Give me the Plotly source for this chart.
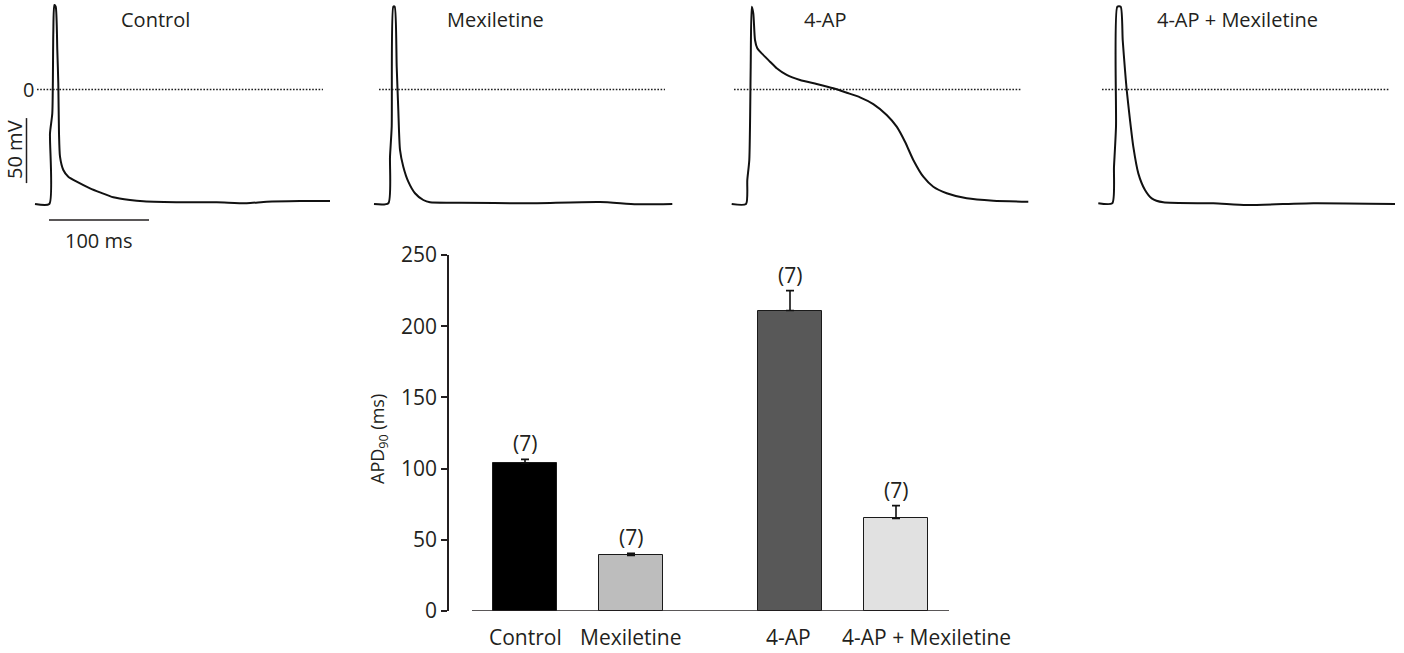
import plotly.graph_objects as go

# ---------------- data ----------------
# Action potential traces (time in ms, membrane potential in mV)
ctrl_t = [35, 49.3, 50, 52.3, 53.3, 54.3, 55.7, 57.3, 58.3, 59, 60, 63.3, 68.3, 76.7, 90, 100, 113.3, 130, 143.3, 183.3, 216.7, 246.7, 266.7, 300, 330]
ctrl_v = [-88.1, -88.1, -33.7, -18.3, 43.2, 65.0, 63.7, 30.4, 4.8, -33.7, -51.7, -61.9, -67.1, -70.9, -76.0, -79.1, -82.9, -85.0, -86.0, -86.8, -86.8, -87.5, -86.3, -85.8, -85.8]

mex_t = [14, 28.3, 30, 31.7, 33.3, 34.7, 36.7, 38.3, 40, 43.3, 48.3, 55, 63.3, 70, 100, 166.7, 240, 276.7, 312.3]
mex_v = [-88.1, -87.5, -51.7, -28.6, 63.7, 63.7, 17.5, -15.8, -46.5, -59.4, -70.9, -79.8, -85.0, -86.8, -87.1, -87.5, -86.5, -88.3, -88.1]

ap_t = [11.7, 26, 27.3, 29.3, 30.7, 31.7, 33.3, 35, 37.3, 41.7, 50, 56.7, 66.7, 80, 96.7, 113.3, 126.7, 140, 153.3, 166.7, 176.7, 185, 193.3, 203.3, 213.3, 226.7, 246.7, 273.3, 308.3]
ap_v = [-88.1, -88.1, -69.6, -54.2, 17.5, 63.7, 58.6, 38.1, 31.7, 27.8, 21.4, 16.3, 11.2, 7.3, 4.2, 0.9, -2.5, -6.0, -11.2, -19.6, -28.6, -40.2, -54.2, -67.1, -74.8, -79.8, -83.7, -85.5, -86.3]

apm_t = [18.3, 32.3, 34, 36, 37.3, 40.7, 42.7, 45, 46.7, 50, 53.3, 58.3, 65, 71.7, 83.3, 133.3, 166.7, 233.3, 315]
apm_v = [-87.5, -87.5, -59.4, -28.6, 63.7, 63.7, 38.1, 15.0, -0.4, -23.5, -44.0, -64.5, -77.3, -83.7, -86.8, -87.5, -88.8, -87.5, -88.1]

panel_titles = ["Control", "Mexiletine", "4-AP", "4-AP + Mexiletine"]
zero_line_t = [(37, 323), (19, 305), (14, 301), (22, 309)]

# Summary bar chart (APD90, ms)
groups = ["Control", "Mexiletine", "4-AP", "4-AP + Mexiletine"]
group_pos = [0, 1, 2.5, 3.5]
apd90 = [104, 39, 211, 65]
apd90_sem = [2.5, 1.5, 14, 9]
n_cells = ["(7)", "(7)", "(7)", "(7)"]
bar_colors = ["#000000", "#bdbdbd", "#585858", "#e1e1e1"]

# ---------------- figure ----------------
W, H = 1404, 653
TXT = "#231f20"
FONT = "Open Sans"
FS = 20
FSB = 21
label_xshift = [0, 0, -2, 30]

def px(v):
    return v / W

def py(v):
    return 1 - v / H

fig = go.Figure()

# top panels geometry (pixels): 1 px per ms, 1.3 px per mV, 0 mV at y=89.5
panel_x = [(0, 350), (360, 710), (720, 1070), (1080, 1404)]
v_top = 89.5 / 1.3
v_bot = (89.5 - 250) / 1.3

traces = [(ctrl_t, ctrl_v), (mex_t, mex_v), (ap_t, ap_v), (apm_t, apm_v)]
title_t = [155, 136, 106, 157]

for i, ((t, v), (x0, x1)) in enumerate(zip(traces, panel_x)):
    k = i + 1
    xa = "x" if k == 1 else f"x{k}"
    ya = "y" if k == 1 else f"y{k}"
    zt0, zt1 = zero_line_t[i]
    fig.add_trace(go.Scatter(x=[zt0, zt1], y=[0, 0], mode="lines",
                             line=dict(color="#1e1e1e", width=1.6, dash="1.6px,1.6px"),
                             xaxis=xa, yaxis=ya, showlegend=False, hoverinfo="skip"))
    fig.add_trace(go.Scatter(x=t, y=v, mode="lines",
                             line=dict(color="#111111", width=2, shape="spline", smoothing=0.6),
                             xaxis=xa, yaxis=ya, showlegend=False))
    axx = dict(domain=[px(x0), px(x1)], range=[0, x1 - x0], visible=False, anchor=ya,
               automargin=False)
    axy = dict(domain=[py(250), 1], range=[v_bot, v_top], visible=False, anchor=xa,
               automargin=False)
    if k == 1:
        fig.update_layout(xaxis=axx, yaxis=axy)
    else:
        fig.update_layout(**{f"xaxis{k}": axx, f"yaxis{k}": axy})
    fig.add_annotation(x=title_t[i], y=54, xref=xa, yref=ya, text=panel_titles[i],
                       showarrow=False, xanchor="center", yanchor="middle",
                       font=dict(family=FONT, size=FS, color=TXT))

# scale bars in first panel
fig.add_shape(type="line", xref="x", yref="y", x0=26.5, x1=26.5, y0=-22, y1=-72,
              line=dict(color=TXT, width=1.5))
fig.add_shape(type="line", xref="x", yref="y", x0=49, x1=149, y0=-100.4, y1=-100.4,
              line=dict(color=TXT, width=1.5))
fig.add_annotation(x=99, y=-115.8, xref="x", yref="y", text="100 ms", showarrow=False,
                   font=dict(family=FONT, size=FS, color=TXT))
fig.add_annotation(x=15, y=-46.5, xref="x", yref="y", text="50 mV", textangle=-90,
                   showarrow=False, font=dict(family=FONT, size=FS, color=TXT))
fig.add_annotation(x=28, y=0, xref="x", yref="y", text="0", showarrow=False,
                   font=dict(family=FONT, size=FS, color=TXT))

# bar chart
fig.add_trace(go.Bar(x=group_pos, y=apd90, width=0.6,
                     marker=dict(color=bar_colors, line=dict(color="#1a1a1a", width=1)),
                     error_y=dict(type="data", symmetric=False, array=apd90_sem,
                                  arrayminus=[0] * len(apd90_sem),
                                  color="#111111", thickness=1.6, width=4),
                     xaxis="x5", yaxis="y5", showlegend=False))

fig.update_layout(
    xaxis5=dict(domain=[px(449), px(949)], range=[-0.717, 4.0], anchor="y5",
                showticklabels=False, ticks="", showline=False,
                showgrid=False, zeroline=False, automargin=False),
    yaxis5=dict(domain=[py(611), py(255)], range=[0, 250], anchor="x5",
                tickvals=[0, 50, 100, 150, 200, 250], ticks="outside", ticklen=6,
                tickwidth=1.5, tickcolor=TXT, showline=True, linewidth=1.5, linecolor=TXT,
                showgrid=False, zeroline=False, automargin=False,
                tickfont=dict(family=FONT, size=FSB, color=TXT)),
)

fig.add_shape(type="line", xref="x5", yref="y5", x0=-0.5, x1=4.0, y0=0, y1=0,
              line=dict(color=TXT, width=1.5))

# category labels under the bars
for xp, lab, dx in zip(group_pos, groups, label_xshift):
    fig.add_annotation(x=xp, y=0, xref="x5", yref="y5", text=lab, showarrow=False,
                       xanchor="center", yanchor="middle", yshift=-26, xshift=dx,
                       font=dict(family=FONT, size=FSB, color=TXT))

for xp, yv, e, lab in zip(group_pos, apd90, apd90_sem, n_cells):
    fig.add_annotation(x=xp, y=yv + e, xref="x5", yref="y5", text=lab, showarrow=False,
                       xanchor="center", yanchor="middle", yshift=16,
                       font=dict(family=FONT, size=FSB, color=TXT))

fig.add_annotation(x=px(378), y=py(439), xref="paper", yref="paper",
                   xanchor="center", yanchor="middle",
                   text="APD<sub>90</sub> (ms)", textangle=-90, showarrow=False,
                   font=dict(family=FONT, size=18, color=TXT))

fig.update_layout(template="none", width=W, height=H,
                  margin=dict(l=0, r=0, t=0, b=0, pad=0, autoexpand=False),
                  paper_bgcolor="white", plot_bgcolor="white", bargap=0)

fig.write_html("out.html")
